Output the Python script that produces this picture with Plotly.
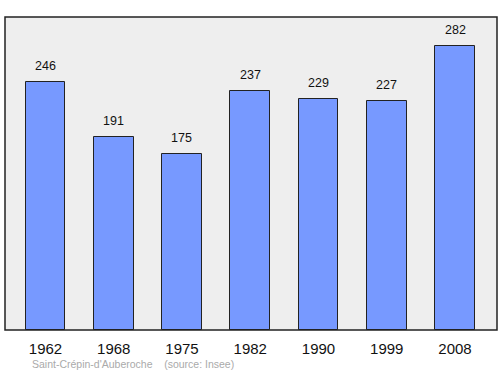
import plotly.graph_objects as go

years = ["1962", "1968", "1975", "1982", "1990", "1999", "2008"]
population = [246, 191, 175, 237, 229, 227, 282]
footer_text = "Saint-Crépin-d'Auberoche    (source: Insee)"

FONT = "Liberation Sans, Arial, sans-serif"

fig = go.Figure()
fig.add_trace(go.Bar(
    x=list(range(len(years))), y=population, width=0.58,
    marker=dict(color="#7799ff", line=dict(color="#222222", width=1)),
    hoverinfo="skip",
))

for i, v in enumerate(population):
    fig.add_annotation(x=i, y=v, text=str(v), showarrow=False, yanchor="bottom",
                       yshift=7, font=dict(size=12.5, color="#111111", family=FONT))

fig.add_annotation(xref="paper", yref="paper", x=0.05, y=-0.109, xanchor="left", yanchor="middle",
                   text=footer_text, showarrow=False,
                   font=dict(size=10.5, color="#aaaaaa", family=FONT))

fig.update_layout(
    width=500, height=374,
    margin=dict(l=5, r=3, t=17, b=44),
    paper_bgcolor="white", plot_bgcolor="#eeeeee",
    showlegend=False,
    bargap=0,
    xaxis=dict(range=[-0.593, 6.615], showgrid=False, zeroline=False,
               tickmode="array", tickvals=list(range(len(years))), ticktext=years,
               ticks="", tickfont=dict(size=15, color="#111111", family=FONT),
               ticklabelstandoff=8, fixedrange=True),
    yaxis=dict(range=[0, 310.5], showgrid=False, zeroline=False, showticklabels=False,
               ticks="", fixedrange=True),
)
fig.add_shape(type="rect", xref="paper", yref="paper", x0=0, y0=0, x1=1, y1=1,
              line=dict(color="#222222", width=1.5), fillcolor="rgba(0,0,0,0)", layer="above")

fig.write_html("out.html")
